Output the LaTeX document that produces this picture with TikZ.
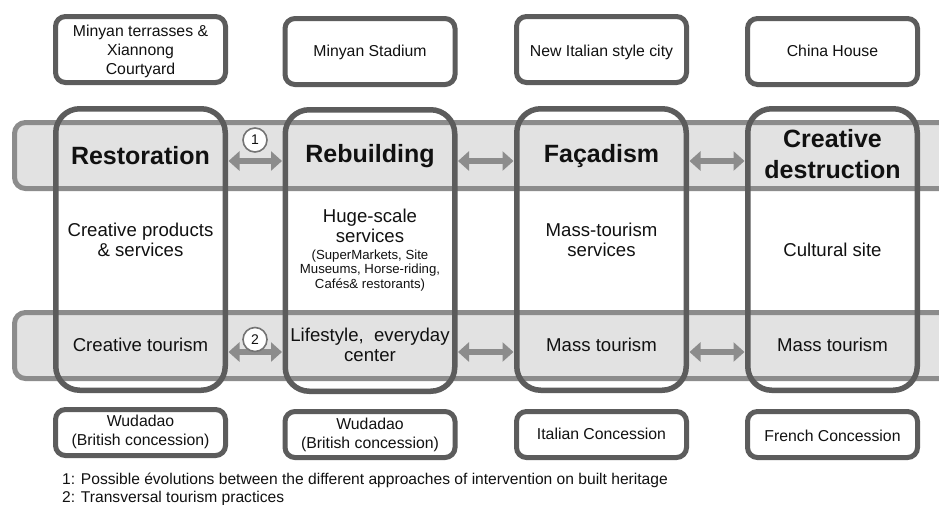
\documentclass[tikz,border=0pt]{standalone}
\usepackage{fontspec}
\setmainfont{Liberation Sans}
\usetikzlibrary{arrows.meta}
\definecolor{boxline}{HTML}{5C5C5C}
\definecolor{bandline}{HTML}{8C8C8C}
\definecolor{bandfill}{HTML}{E2E2E2}
\definecolor{arrowgray}{HTML}{8C8C8C}
\definecolor{txt}{HTML}{111111}
\tikzset{
  colbox/.style={draw=boxline, line width=5.5pt, rounded corners=24pt, minimum width=169.5pt, minimum height=281.5pt, inner sep=0pt},
  labelbox/.style={draw=boxline, line width=5pt, rounded corners=10pt, minimum width=170pt, fill=white, inner sep=0pt},
  labeltext/.style={align=center, text=txt, font=\fontsize{15.8}{19}\selectfont, inner sep=0pt},
  bandbox/.style={draw=bandline, line width=5pt, fill=bandfill, rounded corners=11pt},
  head/.style={font=\bfseries\fontsize{25}{31}\selectfont, align=center, text=txt},
  mid/.style={font=\fontsize{18.6}{20.5}\selectfont, align=center, text=txt},
  small/.style={font=\fontsize{13.2}{14.5}\selectfont, align=center, text=txt},
  fatarrow/.style={draw=arrowgray, line width=6.5pt, {Triangle[width=19pt,length=11pt]}-{Triangle[width=19pt,length=11pt]}, shorten <=0.5pt, shorten >=0.5pt},
  numcircle/.style={circle, draw=boxline!85!white, line width=1.6pt, minimum size=24pt, inner sep=0pt, font=\fontsize{14}{14}\selectfont, text=txt, fill=white},
  note/.style={anchor=west, font=\fontsize{15.6}{18}\selectfont, text=txt, inner sep=0pt}
}
\begin{document}
\begin{tikzpicture}[x=1pt,y=-1pt]
\useasboundingbox (0,0) rectangle (939,504);
\clip (0,0) rectangle (939,504);
\fill[white] (0,0) rectangle (939,504);
% bands
\draw[bandbox] (14.5,122.5) rectangle (960,188.5);
\draw[bandbox] (14.5,312.5) rectangle (960,378.5);
% columns
\node[colbox] (c1) at (140.5,249.5) {};
\node[colbox] (c2) at (370,250.5) {};
\node[colbox] (c3) at (601.5,249.5) {};
\node[colbox] (c4) at (832.5,249.5) {};
% arrow rows
\coordinate (r1) at (0,161);
\coordinate (r2) at (0,352);
\draw[fatarrow] (c1.east |- r1) -- (c2.west |- r1);
\draw[fatarrow] (c2.east |- r1) -- (c3.west |- r1);
\draw[fatarrow] (c3.east |- r1) -- (c4.west |- r1);
\draw[fatarrow] (c1.east |- r2) -- (c2.west |- r2);
\draw[fatarrow] (c2.east |- r2) -- (c3.west |- r2);
\draw[fatarrow] (c3.east |- r2) -- (c4.west |- r2);
\node[numcircle] (n1) at (255,140) {1};
\node[numcircle] (n2) at (255,339.5) {2};
% top boxes
\node[labelbox, minimum height=66pt] (t1) at (140.5,49.5) {};
\node[labelbox, minimum height=66pt] (t2) at (370,51.5) {};
\node[labelbox, minimum height=66pt] (t3) at (601.5,49.5) {};
\node[labelbox, minimum height=66pt] (t4) at (832.5,51.5) {};
\node[labeltext] (t1x) at (140.5,51) {Minyan terrasses \&\\Xiannong\\Courtyard};
\node[labeltext] (t2x) at (370,52.5) {Minyan Stadium};
\node[labeltext] (t3x) at (601.5,52.5) {New Italian style city};
\node[labeltext] (t4x) at (832.5,51) {China House};
% bottom boxes
\node[labelbox, minimum height=46pt] (b1) at (140.5,432.5) {};
\node[labelbox, minimum height=46pt] (b2) at (370,434.5) {};
\node[labelbox, minimum height=46pt] (b3) at (601.5,434.5) {};
\node[labelbox, minimum height=46pt] (b4) at (832.5,434.5) {};
\node[labeltext] (b1x) at (140.5,432) {Wudadao\\(British concession)};
\node[labeltext] (b2x) at (370,435) {Wudadao\\(British concession)};
\node[labeltext] (b3x) at (601.5,433.5) {Italian Concession};
\node[labeltext] (b4x) at (832.5,436) {French Concession};
% headers
\node[head] (h1) at (140.5,156) {Restoration};
\node[head] (h2) at (370,156) {Rebuilding};
\node[head] (h3) at (601.5,156) {Façadism};
\node[head] (h4) at (832.5,154) {Creative\\destruction};
% middle
\node[mid] (m1) at (140.5,240) {Creative products\\\& services};
\node[mid] (m2) at (370,226) {Huge-scale\\services};
\node[small] (m2s) at (370,270.5) {(SuperMarkets, Site\\Museums, Horse-riding,\\Cafés\& restorants)};
\node[mid] (m3) at (601.5,240) {Mass-tourism\\services};
\node[mid] (m4) at (832.5,250) {Cultural site};
% row 2
\node[mid] (p1) at (140.5,345) {Creative tourism};
\node[mid] (p2) at (370,345) {Lifestyle,~ everyday\\center};
\node[mid] (p3) at (601.5,345) {Mass tourism};
\node[mid] (p4) at (832.5,345) {Mass tourism};
% notes
\node[note] (f1) at (62,480) {1: Possible évolutions between the different approaches of intervention on built heritage};
\node[note] (f2) at (62,498) {2: Transversal tourism practices};
\end{tikzpicture}
\end{document}
